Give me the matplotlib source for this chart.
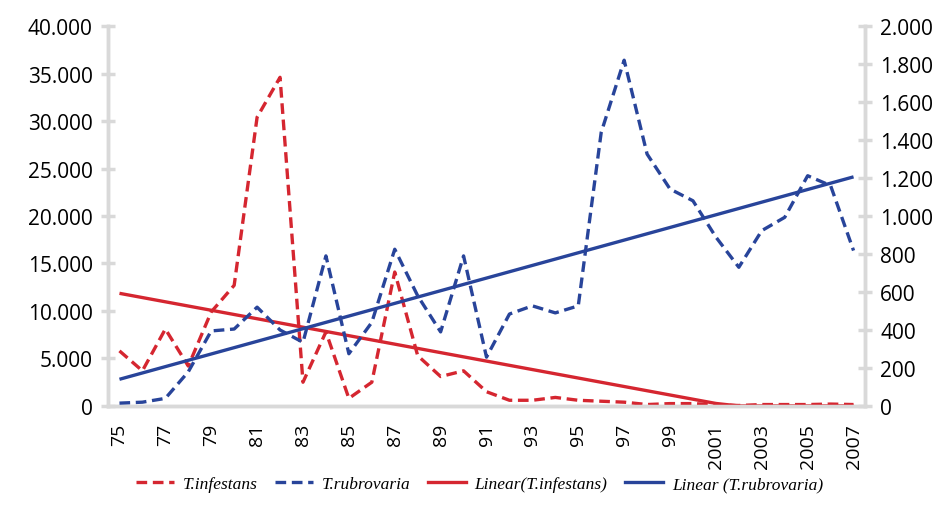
import numpy as np
import matplotlib
matplotlib.use("Agg")
import matplotlib.pyplot as plt
from matplotlib.lines import Line2D
from matplotlib.ticker import FuncFormatter, MultipleLocator

years = ["75", "76", "77", "78", "79", "80", "81", "82", "83", "84", "85", "86",
         "87", "88", "89", "90", "91", "92", "93", "94", "95", "96", "97", "98",
         "99", "2000", "2001", "2002", "2003", "2004", "2005", "2006", "2007"]
tick_labels = [y if i % 2 == 0 else "" for i, y in enumerate(years)]

t_infestans = [5800, 3700, 8100, 4200, 9900, 12700, 30400, 34600, 2500, 7800,
               800, 2500, 14100, 5300, 3100, 3700, 1500, 600, 600, 900,
               600, 500, 400, 150, 250, 250, 120, 50, 150, 150,
               150, 200, 150]
t_rubrovaria = [15, 20, 40, 180, 395, 405, 520, 400, 335, 790,
                275, 440, 825, 580, 390, 790, 257, 484, 527, 490,
                527, 1440, 1820, 1326, 1142, 1080, 889, 730, 923, 993,
                1212, 1160, 818]

RED = "#d52630"
BLUE = "#28449a"
GRAY = "#d9d9d9"
LW = 2.4
DASH = (3.2, 1.7)

fig = plt.figure(figsize=(9.49, 5.06), dpi=100)
ax = fig.add_axes([0.1138, 0.1957, 0.7977, 0.7509])
ax2 = ax.twinx()

x = np.arange(len(years))

ax.plot(x, t_infestans, color=RED, lw=LW, linestyle=(0, DASH),
        dash_capstyle="butt", zorder=3)
ax2.plot(x, t_rubrovaria, color=BLUE, lw=LW, linestyle=(0, DASH),
         dash_capstyle="butt", zorder=3)

# linear trend lines
c_inf = np.polyfit(x, t_infestans, 1)
c_rub = np.polyfit(x, t_rubrovaria, 1)
trend_inf = np.maximum(np.polyval(c_inf, x), 0)
trend_rub = np.polyval(c_rub, x)
ax.plot(x, trend_inf, color=RED, lw=LW, zorder=4, solid_capstyle="butt")
ax2.plot(x, trend_rub, color=BLUE, lw=LW, zorder=4, solid_capstyle="butt")

ax.set_xlim(-0.5, len(years) - 0.5)
ax.set_ylim(0, 40000)
ax2.set_ylim(0, 2000)
ax.yaxis.set_major_locator(MultipleLocator(5000))
ax2.yaxis.set_major_locator(MultipleLocator(200))

def thousands(v, pos):
    return f"{int(v):,}".replace(",", ".")

ax.yaxis.set_major_formatter(FuncFormatter(thousands))
ax2.yaxis.set_major_formatter(FuncFormatter(thousands))

ax.set_xticks(x)
ax.set_xticklabels(tick_labels, rotation=90, fontsize=14, family="Open Sans")
ax.tick_params(axis="x", length=0, pad=12)
ax.tick_params(axis="y", direction="inout", length=10, width=2.5, color=GRAY,
               labelsize=15, pad=6)
ax2.tick_params(axis="y", direction="inout", length=10, width=2.5, color=GRAY,
                labelsize=15, pad=6)
for lab in ax.get_yticklabels() + ax2.get_yticklabels():
    lab.set_family("Open Sans")

for a in (ax, ax2):
    a.spines["top"].set_visible(False)
    for s in ("left", "right", "bottom"):
        a.spines[s].set_color(GRAY)
        a.spines[s].set_linewidth(2.5)
    a.patch.set_visible(False)

handles = [
    Line2D([], [], color=RED, lw=LW, linestyle=(0, DASH)),
    Line2D([], [], color=BLUE, lw=LW, linestyle=(0, DASH)),
    Line2D([], [], color=RED, lw=LW),
    Line2D([], [], color=BLUE, lw=LW),
]
labels = ["T.infestans", "T.rubrovaria", "Linear(T.infestans)", "Linear (T.rubrovaria)"]
fig.legend(handles, labels, loc="lower center", bbox_to_anchor=(0.505, -0.005),
           ncol=4, frameon=False, handlelength=2.2, columnspacing=1.0,
           handletextpad=0.5,
           prop={"family": "Liberation Serif", "style": "italic", "size": 12.5})

fig.savefig("out.png", dpi=100)
